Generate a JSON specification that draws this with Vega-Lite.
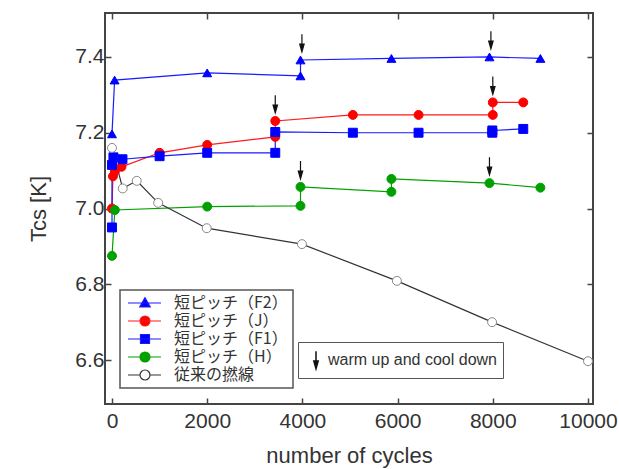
{
  "$schema": "https://vega.github.io/schema/vega-lite/v6.json",
  "width": 488,
  "height": 391,
  "autosize": "none",
  "padding": {"left": 105, "top": 13, "right": 26, "bottom": 65},
  "background": "white",
  "config": {
    "view": {"stroke": "#444444", "strokeWidth": 2},
    "axis": {
      "domain": false, "grid": false,
      "tickSize": -6, "tickColor": "#444444", "tickWidth": 1.5,
      "labelFont": "Liberation Sans", "labelFontSize": 21, "labelColor": "#333333",
      "titleFont": "Liberation Sans", "titleFontSize": 22, "titleFontWeight": "normal", "titleColor": "#333333"
    }
  },
  "datasets": {
    "s": [
      {"series": "短ピッチ（F2）", "x": 0, "y": 7.197, "i": 1},
      {"series": "短ピッチ（F2）", "x": 55, "y": 7.339, "i": 2},
      {"series": "短ピッチ（F2）", "x": 2000, "y": 7.358, "i": 3},
      {"series": "短ピッチ（F2）", "x": 3960, "y": 7.35, "i": 4},
      {"series": "短ピッチ（F2）", "x": 3960, "y": 7.392, "i": 5},
      {"series": "短ピッチ（F2）", "x": 5870, "y": 7.396, "i": 6},
      {"series": "短ピッチ（F2）", "x": 7930, "y": 7.40, "i": 7},
      {"series": "短ピッチ（F2）", "x": 9000, "y": 7.396, "i": 8},

      {"series": "短ピッチ（J）", "x": 0, "y": 7.0, "i": 1},
      {"series": "短ピッチ（J）", "x": 20, "y": 7.085, "i": 2},
      {"series": "短ピッチ（J）", "x": 60, "y": 7.098, "i": 3},
      {"series": "短ピッチ（J）", "x": 200, "y": 7.11, "i": 4},
      {"series": "短ピッチ（J）", "x": 1000, "y": 7.147, "i": 5},
      {"series": "短ピッチ（J）", "x": 2000, "y": 7.168, "i": 6},
      {"series": "短ピッチ（J）", "x": 3430, "y": 7.189, "i": 7},
      {"series": "短ピッチ（J）", "x": 3430, "y": 7.231, "i": 8},
      {"series": "短ピッチ（J）", "x": 5060, "y": 7.247, "i": 9},
      {"series": "短ピッチ（J）", "x": 6440, "y": 7.247, "i": 10},
      {"series": "短ピッチ（J）", "x": 8000, "y": 7.247, "i": 11},
      {"series": "短ピッチ（J）", "x": 8000, "y": 7.28, "i": 12},
      {"series": "短ピッチ（J）", "x": 8640, "y": 7.28, "i": 13},

      {"series": "短ピッチ（F1）", "x": 0, "y": 6.95, "i": 1},
      {"series": "短ピッチ（F1）", "x": 0, "y": 7.115, "i": 2},
      {"series": "短ピッチ（F1）", "x": 30, "y": 7.135, "i": 3},
      {"series": "短ピッチ（F1）", "x": 220, "y": 7.13, "i": 4},
      {"series": "短ピッチ（F1）", "x": 1000, "y": 7.138, "i": 5},
      {"series": "短ピッチ（F1）", "x": 2000, "y": 7.147, "i": 6},
      {"series": "短ピッチ（F1）", "x": 3430, "y": 7.147, "i": 7},
      {"series": "短ピッチ（F1）", "x": 3430, "y": 7.202, "i": 8},
      {"series": "短ピッチ（F1）", "x": 5060, "y": 7.2, "i": 9},
      {"series": "短ピッチ（F1）", "x": 6440, "y": 7.2, "i": 10},
      {"series": "短ピッチ（F1）", "x": 7990, "y": 7.2, "i": 11},
      {"series": "短ピッチ（F1）", "x": 7990, "y": 7.206, "i": 12},
      {"series": "短ピッチ（F1）", "x": 8640, "y": 7.21, "i": 13},

      {"series": "短ピッチ（H）", "x": 0, "y": 6.875, "i": 1},
      {"series": "短ピッチ（H）", "x": 60, "y": 6.996, "i": 2},
      {"series": "短ピッチ（H）", "x": 2000, "y": 7.005, "i": 3},
      {"series": "短ピッチ（H）", "x": 3960, "y": 7.007, "i": 4},
      {"series": "短ピッチ（H）", "x": 3960, "y": 7.057, "i": 5},
      {"series": "短ピッチ（H）", "x": 5870, "y": 7.044, "i": 6},
      {"series": "短ピッチ（H）", "x": 5870, "y": 7.078, "i": 7},
      {"series": "短ピッチ（H）", "x": 7930, "y": 7.067, "i": 8},
      {"series": "短ピッチ（H）", "x": 9000, "y": 7.055, "i": 9},

      {"series": "従来の撚線", "x": 0, "y": 7.16, "i": 1},
      {"series": "従来の撚線", "x": 225, "y": 7.053, "i": 2},
      {"series": "従来の撚線", "x": 520, "y": 7.073, "i": 3},
      {"series": "従来の撚線", "x": 970, "y": 7.015, "i": 4},
      {"series": "従来の撚線", "x": 1990, "y": 6.948, "i": 5},
      {"series": "従来の撚線", "x": 3990, "y": 6.906, "i": 6},
      {"series": "従来の撚線", "x": 5985, "y": 6.809, "i": 7},
      {"series": "従来の撚線", "x": 7985, "y": 6.70, "i": 8},
      {"series": "従来の撚線", "x": 10000, "y": 6.597, "i": 9}
    ],
    "arrows": [
      {"note": "warm up and cool down", "x": 3430, "y": 7.231},
      {"note": "warm up and cool down", "x": 3990, "y": 7.392},
      {"note": "warm up and cool down", "x": 7960, "y": 7.40},
      {"note": "warm up and cool down", "x": 8000, "y": 7.28},
      {"note": "warm up and cool down", "x": 3960, "y": 7.057},
      {"note": "warm up and cool down", "x": 7930, "y": 7.067}
    ]
  },
  "resolve": {
    "scale": {"shape": "independent"},
    "axis": {"x": "independent", "y": "independent"}
  },
  "layer": [
    {
      "data": {"name": "s"},
      "mark": {"type": "line", "strokeWidth": 1.2},
      "encoding": {
        "x": {"field": "x", "type": "quantitative",
          "scale": {"domain": [-147, 10105], "nice": false, "zero": false},
          "axis": {"orient": "bottom", "values": [0, 2000, 4000, 6000, 8000, 10000], "format": "d", "title": "number of cycles", "labelPadding": 12, "titlePadding": 14}},
        "y": {"field": "y", "type": "quantitative",
          "scale": {"domain": [6.484, 7.516], "nice": false, "zero": false},
          "axis": {"orient": "left", "values": [6.6, 6.8, 7.0, 7.2, 7.4], "format": ".1f", "title": "Tcs [K]", "labelPadding": 7, "titlePadding": 24}},
        "color": {"field": "series", "type": "nominal",
          "scale": {"domain": ["短ピッチ（F2）", "短ピッチ（J）", "短ピッチ（F1）", "短ピッチ（H）", "従来の撚線"],
                    "range": ["#1a1aff", "#ff1a1a", "#1a1aff", "#00a000", "#333333"]},
          "legend": {
            "orient": "none", "legendX": 15, "legendY": 277, "title": null,
            "padding": 5, "strokeColor": "#555555", "fillColor": "white",
            "labelFont": "Noto Sans CJK JP", "labelFontSize": 16, "labelColor": "#333333", "labelLimit": 0,
            "symbolSize": 100, "labelOffset": 33, "rowPadding": 2,
            "encode": {
              "legend": {"update": {"strokeWidth": {"value": 1.5}}},
              "symbols": {
                "update": {
                  "shape": {"signal": "['M-1,0H5.6M2.4,-1.05L3.45,0.8L1.35,0.8Z','M-1,0H5.6M3.4,0A1,1,0,1,1,1.4,0A1,1,0,1,1,3.4,0Z','M-1,0H5.6M1.5,-0.9H3.3V0.9H1.5Z','M-1,0H5.6M3.4,0A1,1,0,1,1,1.4,0A1,1,0,1,1,3.4,0Z','M-1,0H1.4M3.4,0H5.6M3.4,0A1,1,0,1,1,1.4,0A1,1,0,1,1,3.4,0Z'][datum.index]"},
                  "fill": {"signal": "['#0000ff','#ff0000','#0000ff','#00a000','#ffffff'][datum.index]"},
                  "stroke": {"signal": "['#0000ff','#ff0000','#0000ff','#00a000','#888888'][datum.index]"},
                  "strokeWidth": {"value": 1.2},
                  "opacity": {"value": 1},
                  "fillOpacity": {"value": 1},
                  "strokeOpacity": {"value": 1}
                }
              }
            }
          }},
        "order": {"field": "i", "type": "quantitative"}
      }
    },
    {
      "data": {"name": "s"},
      "mark": {"type": "point", "size": 80, "strokeWidth": 1, "opacity": 1},
      "encoding": {
        "x": {"field": "x", "type": "quantitative",
          "axis": {"orient": "top", "values": [0, 2000, 4000, 6000, 8000, 10000], "labels": false, "title": null}},
        "y": {"field": "y", "type": "quantitative",
          "axis": {"orient": "right", "values": [6.6, 6.8, 7.0, 7.2, 7.4], "labels": false, "title": null}},
        "shape": {"field": "series", "type": "nominal",
          "scale": {"domain": ["短ピッチ（F2）", "短ピッチ（J）", "短ピッチ（F1）", "短ピッチ（H）", "従来の撚線"],
                    "range": ["triangle-up", "circle", "square", "circle", "circle"]},
          "legend": null},
        "fill": {"field": "series", "type": "nominal",
          "scale": {"domain": ["短ピッチ（F2）", "短ピッチ（J）", "短ピッチ（F1）", "短ピッチ（H）", "従来の撚線"],
                    "range": ["#0000ff", "#ff0000", "#0000ff", "#00a000", "#ffffff"]},
          "legend": null},
        "stroke": {"field": "series", "type": "nominal",
          "scale": {"domain": ["短ピッチ（F2）", "短ピッチ（J）", "短ピッチ（F1）", "短ピッチ（H）", "従来の撚線"],
                    "range": ["#0000ff", "#ff0000", "#0000ff", "#00a000", "#888888"]},
          "legend": null}
      }
    },
    {
      "data": {"name": "arrows"},
      "mark": {"type": "point", "size": 484, "filled": true, "fill": "#111111", "stroke": "#111111", "strokeWidth": 1.2, "opacity": 1, "yOffset": -17},
      "encoding": {
        "x": {"field": "x", "type": "quantitative", "axis": null},
        "y": {"field": "y", "type": "quantitative", "axis": null},
        "shape": {"field": "note", "type": "nominal",
          "scale": {"range": ["M0,-0.8L0,0.2M-0.2,0.1L0.2,0.1L0,0.8Z"]},
          "legend": {
            "orient": "none", "legendX": 193, "legendY": 329, "title": null,
            "padding": 6, "strokeColor": "#555555", "fillColor": "white",
            "labelFont": "Liberation Sans", "labelFontSize": 16, "labelColor": "#333333", "labelLimit": 0,
            "symbolSize": 484, "labelOffset": 0,
            "encode": {
              "legend": {"update": {"strokeWidth": {"value": 1.5}}},
              "symbols": {"update": {"fill": {"value": "#111111"}, "stroke": {"value": "#111111"}, "strokeWidth": {"value": 1.2}, "opacity": {"value": 1}, "fillOpacity": {"value": 1}, "strokeOpacity": {"value": 1}}}
            }
          }}
      }
    }
  ]
}
